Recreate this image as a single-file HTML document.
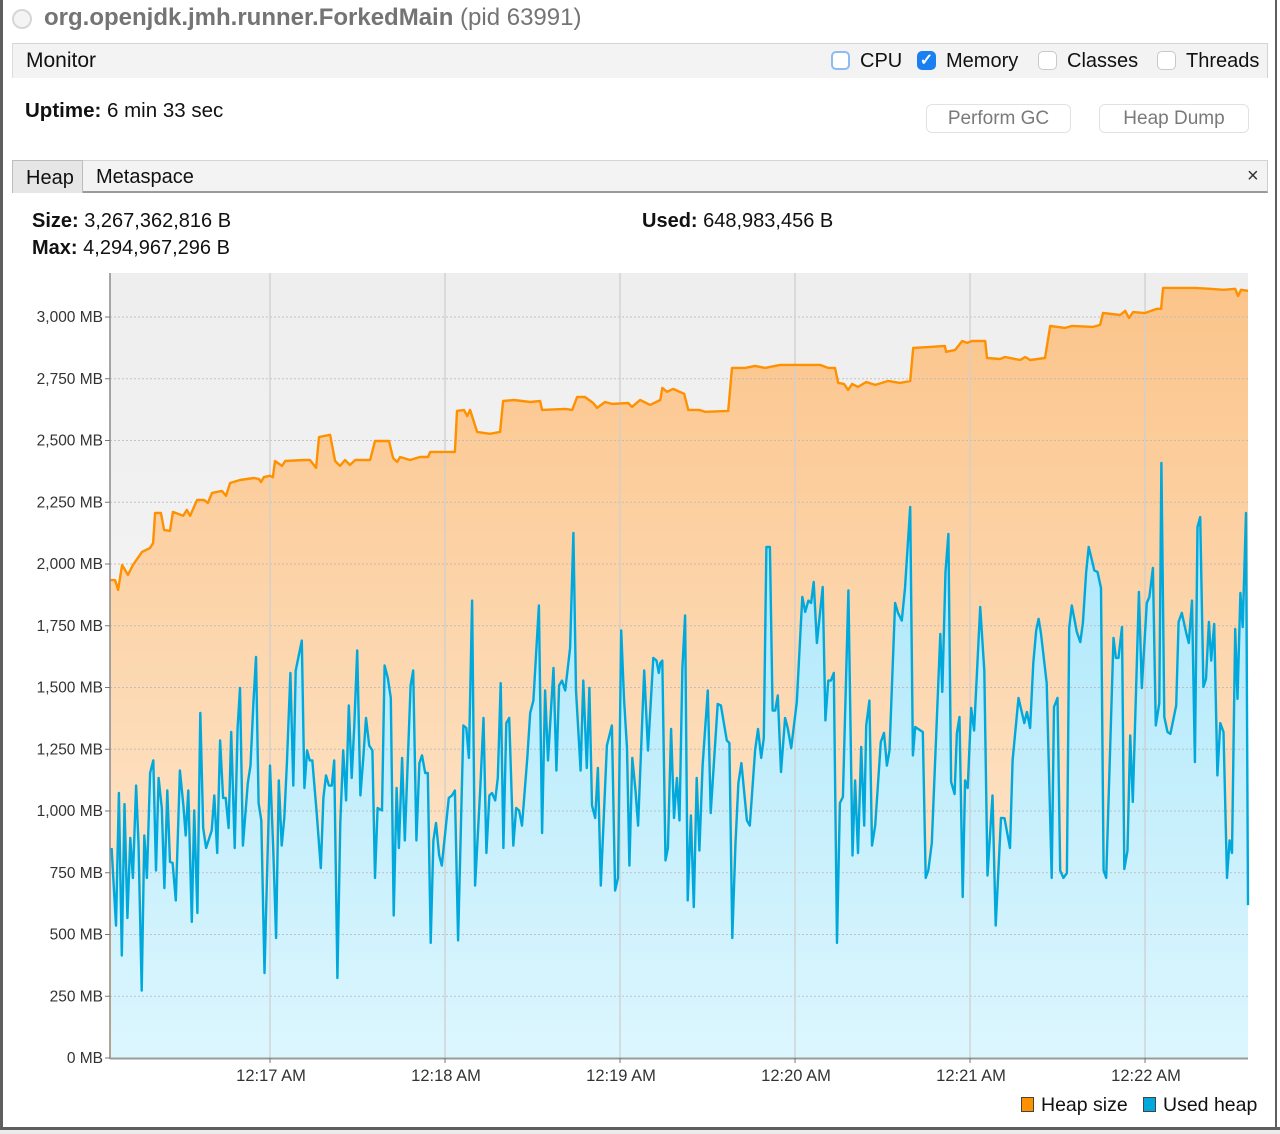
<!DOCTYPE html>
<html><head><meta charset="utf-8"><title>Monitor</title>
<style>
body{margin:0;width:1280px;height:1134px;background:#fff;position:relative;overflow:hidden;font-family:"Liberation Sans",sans-serif;color:#111}
.abs{position:absolute}
.cb{position:absolute;width:19px;height:19px;border:1px solid #c9c9c9;border-radius:5px;background:#fff;box-sizing:border-box}
.lbl{position:absolute;font-size:20px;color:#111;white-space:nowrap}
.btn{position:absolute;height:29px;border:1px solid #e2e2e2;border-radius:6px;background:#fff;color:#7a7a7a;font-size:19px;text-align:center;line-height:28px;box-sizing:border-box}
</style></head><body>
<div class="abs" style="left:0;top:0;width:3px;height:1130px;background:#5e5e5e"></div>
<div class="abs" style="left:1275px;top:0;width:2px;height:1130px;background:#5e5e5e"></div>
<div class="abs" style="left:0;top:1127px;width:1280px;height:3px;background:#5e5e5e"></div>
<div class="abs" style="left:0;top:1130px;width:1280px;height:4px;background:#ececec"></div>

<div class="abs" style="left:12px;top:9px;width:16px;height:16px;border:2px solid #d6d6d6;border-radius:50%;background:#f4f4f4"></div>
<div class="abs" style="left:44px;top:4px;font-size:24px;color:#747474;white-space:nowrap"><b>org.openjdk.jmh.runner.ForkedMain</b> (pid 63991)</div>

<div class="abs" style="left:12px;top:43px;width:1256px;height:35px;background:#f3f3f3;border-top:1px solid #d4d4d4;border-left:1px solid #dcdcdc;border-right:1px solid #d4d4d4;box-sizing:border-box"></div>
<div class="lbl" style="left:26px;top:49px;font-size:21px">Monitor</div>
<div class="cb" style="left:831px;top:51px;border-color:#8cbcf0;border-width:2px"></div>
<div class="lbl" style="left:860px;top:50px">CPU</div>
<div class="cb" style="left:917px;top:51px;background:#1a7ff0;border-color:#1a7ff0;color:#fff;font-size:16px;font-weight:bold;text-align:center;line-height:18px">✓</div>
<div class="lbl" style="left:946px;top:50px">Memory</div>
<div class="cb" style="left:1038px;top:51px"></div>
<div class="lbl" style="left:1067px;top:50px">Classes</div>
<div class="cb" style="left:1157px;top:51px"></div>
<div class="lbl" style="left:1186px;top:50px">Threads</div>

<div class="lbl" style="left:25px;top:99px;font-size:20.5px"><b>Uptime:</b> 6 min 33 sec</div>
<div class="btn" style="left:926px;top:104px;width:145px">Perform GC</div>
<div class="btn" style="left:1099px;top:104px;width:150px">Heap Dump</div>

<div class="abs" style="left:12px;top:160px;width:1256px;height:33px;background:#f3f3f3;border-top:1px solid #d4d4d4;border-bottom:2px solid #9a9a9a;border-right:1px solid #cfcfcf;box-sizing:border-box"></div>
<div class="abs" style="left:12px;top:160px;width:71px;height:33px;background:#e6e6e6;border:1px solid #bdbdbd;border-bottom:none;box-sizing:border-box;font-size:20px;padding:6px 0 0 13px">Heap</div>
<div class="lbl" style="left:96px;top:166px">Metaspace</div>
<div class="lbl" style="left:1247px;top:165px;color:#333">×</div>

<div class="lbl" style="left:32px;top:210px"><b>Size:</b> 3,267,362,816 B</div>
<div class="lbl" style="left:32px;top:237px"><b>Max:</b> 4,294,967,296 B</div>
<div class="lbl" style="left:642px;top:210px"><b>Used:</b> 648,983,456 B</div>

<svg id="chart" class="abs" style="left:0;top:0" width="1280" height="1134" xmlns="http://www.w3.org/2000/svg">
<defs>
<linearGradient id="bgG" x1="0" y1="0" x2="0" y2="1"><stop offset="0" stop-color="#eeeeee"/><stop offset="1" stop-color="#f8f8f8"/></linearGradient>
<linearGradient id="heapG" x1="0" y1="0" x2="0" y2="1"><stop offset="0" stop-color="#fbc48a"/><stop offset="1" stop-color="#feecd8"/></linearGradient>
<linearGradient id="usedG" x1="0" y1="0" x2="0" y2="1"><stop offset="0" stop-color="#a8e6fa"/><stop offset="1" stop-color="#dcf6fe"/></linearGradient>
</defs>
</svg>

<script>
// times in seconds after 12:16:00, values in MB
const heapT=[5.1,6.9,7.9,9.3,11.3,13,16.1,18.9,19.9,20.6,22.6,23.7,25.7,26.7,30.2,31.5,32.6,35,37.4,38.7,40.1,43.5,44.9,46.3,49.7,54.5,56.2,56.9,57.9,60,61,61.7,64.1,65.2,71.7,73.7,75.8,76.8,80.6,82.3,84,85.7,87.4,89.2,94.3,96,100.8,102.2,103.6,104.6,108,111.4,114.2,114.9,123.4,124.1,126.5,127.6,128.6,129.6,131,135.4,138.9,139.9,143.7,149.2,152.6,153.3,161.2,163.6,165.3,168,170.8,172.1,174.9,177.3,182.8,184.1,186.9,190.3,193.8,194.5,196.1,198.2,202,203.4,207.1,209.2,217.1,218.4,222.9,226.3,229.7,234.9,248.6,251.3,253.7,254.8,256.8,258.2,259.6,261.6,264.4,267.5,271.9,276,279.5,280.5,286.3,291.4,291.8,294.9,297.3,299,300.7,305.2,305.8,310.3,312,317.2,318.9,320.6,325.7,327.5,332.6,335,342.2,344.6,345.6,351.5,353.2,354.5,355.9,360,364.1,365.5,366.2,377.1,382.3,386.8,390.9,391.9,392.9,395.3];
const heapV=[1935,1935,1895,1996,1956,1996,2049,2065,2085,2207,2207,2138,2134,2211,2195,2219,2195,2259,2259,2247,2288,2296,2276,2328,2340,2348,2344,2332,2352,2357,2352,2417,2397,2417,2421,2421,2389,2514,2523,2417,2397,2421,2401,2421,2421,2498,2498,2429,2413,2433,2421,2433,2433,2454,2454,2620,2624,2599,2624,2587,2535,2527,2535,2660,2664,2656,2660,2624,2628,2624,2676,2676,2652,2632,2656,2648,2652,2636,2664,2644,2664,2713,2697,2709,2689,2624,2624,2616,2620,2794,2794,2802,2794,2806,2806,2794,2794,2733,2729,2705,2729,2717,2737,2725,2741,2733,2741,2875,2879,2883,2859,2867,2903,2895,2903,2903,2834,2830,2838,2826,2838,2826,2834,2964,2956,2964,2960,2968,3016,3008,3025,2996,3020,3016,3033,3033,3118,3118,3114,3110,3114,3085,3110,3106];
const usedT=[5.7,7.2,8.2,9.2,10.1,11.1,12.1,13,14.1,14.9,16,16.9,17.8,18.9,20,20.9,21.8,22.9,23.8,24.8,25.7,26.6,27.7,29.1,30.3,31.1,32,33.2,34,35.1,36.1,37.1,38.1,40,40.9,41.9,42.9,43.9,44.8,45.8,46.7,47.9,48.9,49.7,50.7,52.4,53.3,54.3,55.2,56.1,57,58.1,59,60,61.1,62.1,63,64,64.9,65.8,67,68,68.8,70.9,71.8,72.7,73.6,74.5,76,77.4,78.3,79.2,80.2,81.2,82,83.1,84.1,85.1,86.1,87,88,88.9,89.9,91,92,92.9,94,95.1,96,96.9,98.4,99.3,100.4,101.4,102.4,103.4,104.2,105.3,106.2,108.2,109.1,110.2,111.2,112.1,113.2,114.1,115.1,116,116.9,118,118.9,121.3,122.4,123.4,124.5,126.3,127.3,128.2,129.3,130.3,132.1,133.2,134.2,135.2,136.1,137.2,138.1,139.1,140,141,142,143.4,144.4,145.4,146.4,148.2,149.2,150.3,151.2,152.2,153.3,154.3,155.3,157.2,158.2,159.1,160.1,161.2,162.9,164,164.9,166.5,167.4,168.6,169.5,170.4,171.5,172.4,173.4,175.5,177.2,178.3,179.3,180.4,181.4,182.4,183.2,184.2,185.3,186.2,188.3,189.6,191.4,192.5,193.3,193.8,194.5,195.6,196.4,197.5,198.5,199.5,200.4,201.4,202.3,203.2,204.3,205.3,206.3,207.2,208.3,210.1,211.1,213.5,214.6,216.6,217.5,218.5,219.6,220.6,221.6,223.5,224.5,226.3,227.3,228.4,229.3,230.2,231.4,232.3,233.2,234.1,235.2,236.6,237.5,238.7,240.6,242.5,243.5,244.6,245.5,246.4,247.5,249.5,250.4,251.4,252.3,253.3,254.4,255.4,256.4,258.3,259.7,260.6,261.6,262.7,263.7,264.4,265.5,266.4,267.5,269.4,270.5,271.5,272.4,274.3,275.3,276.6,277.7,279.5,280.4,281.2,283.8,284.8,285.7,286.9,289.8,290.5,291.6,292.6,293.5,294.7,295.5,296.4,297.5,298.3,299.2,300.4,301.4,303.5,304.9,306,307.7,308.8,310.6,311.8,313.7,314.6,316.6,318.6,319.5,320.6,321.7,322.7,323.5,324.3,326.3,328,328.8,330,330.9,332,333.2,334,334.9,336.6,337.8,338.7,339.8,340.7,341.8,342.6,343.7,344.9,345.8,346.7,349.2,350,350.9,352.1,352.9,354,354.9,355.8,357.9,358.9,360.6,361.5,362.7,363.7,364.9,365.6,366.6,367.7,368.7,370.7,371.5,372.6,374.1,375,376.1,377.1,378,378.9,380,380.9,381.9,382.7,383.7,384.8,385.8,386.9,388.1,389,389.8,390.9,391.7,392.7,393.5,394.6,395.3];
const usedV=[850,536,1073,415,1028,567,891,729,1103,870,273,901,729,1154,1205,759,1134,1012,688,1083,794,790,638,1164,1022,901,1083,551,1002,587,1397,931,850,921,1063,830,1286,1053,1053,931,1320,850,1336,1498,860,1113,1184,1437,1624,1032,962,344,749,1184,850,486,1124,860,972,1194,1559,1103,1569,1690,1093,1245,1205,1205,992,769,1053,1144,1103,1103,1205,324,952,1245,1043,1427,1134,1346,1650,1063,1215,1377,1265,1245,729,1012,1002,1589,1539,1458,577,1093,850,1215,881,1508,1569,881,1194,1225,1154,1154,466,881,952,820,779,1053,1063,1083,476,1346,1336,1215,1852,698,1093,1377,830,1063,1073,1043,1134,1518,850,1356,1377,860,1012,1002,941,1215,1397,1447,1630,1832,911,1488,1205,1579,1164,1508,1528,1488,1660,2126,1488,1164,1528,1174,1498,1022,972,1174,698,1265,1346,678,729,1731,1447,1255,779,1215,1083,941,1569,1245,1620,1609,1559,1599,1609,800,850,1332,972,1134,962,1579,1792,638,982,611,1134,840,1184,1488,992,1433,1427,1286,1275,486,870,1113,1194,962,941,1245,1332,1215,1296,2069,2069,1407,1407,1468,1158,1377,1336,1255,1441,1867,1806,1852,1842,1927,1680,1907,1367,1528,1528,1559,466,1032,1057,1893,820,1124,830,1259,941,1346,1447,860,941,1279,1316,1184,1245,1842,1802,1771,1903,2231,1225,1340,1320,729,759,870,1717,1482,1968,2122,1118,1069,1316,1381,652,1124,1093,1417,1326,1826,1569,739,1063,536,972,971,850,1205,1458,1356,1401,1336,1599,1731,1778,1721,1518,729,1421,1458,759,729,749,1741,1832,1725,1684,1761,1964,2069,2014,1974,1968,1903,759,729,1701,1620,1620,1745,765,840,1306,1037,1887,1498,1842,1867,1984,1346,1437,2409,1381,1320,1312,1427,1765,1802,1721,1680,1852,1198,2150,2190,1502,1535,1765,1609,1757,1144,1356,1320,729,881,830,1737,1454,1883,1745,2207,619];
const yTicks=[0,250,500,750,1000,1250,1500,1750,2000,2250,2500,2750,3000];
const xTickT=[60,120,180,240,300,360];
const xTickLabels=["12:17 AM","12:18 AM","12:19 AM","12:20 AM","12:21 AM","12:22 AM"];

const NS="http://www.w3.org/2000/svg";
const svg=document.getElementById('chart');
const PL=110,PR=1248,PT=273,PB=1058;
const T0=5.14,T1=395.3,VMAX=3000,YV=317;
function xs(t){return PL+(t-T0)*(PR-PL)/(T1-T0);}
function ys(v){return PB-v*(PB-YV)/VMAX;}
function mk(tag,attrs){const e=document.createElementNS(NS,tag);for(const k in attrs)e.setAttribute(k,attrs[k]);svg.appendChild(e);return e;}

let e=mk('rect',{x:PL,y:PT,width:PR-PL,height:PB-PT,fill:'url(#bgG)'});



function areaPath(T,V){let d='M'+xs(T[0]).toFixed(1)+','+PB;for(let i=0;i<T.length;i++)d+=' L'+xs(T[i]).toFixed(1)+','+ys(V[i]).toFixed(1);d+=' L'+xs(T[T.length-1]).toFixed(1)+','+PB+' Z';return d;}
function linePath(T,V){let d='';for(let i=0;i<T.length;i++)d+=(i?' L':'M')+xs(T[i]).toFixed(1)+','+ys(V[i]).toFixed(1);return d;}

e=mk('path',{d:areaPath(heapT,heapV),fill:'url(#heapG)'});


e=mk('path',{d:areaPath(usedT,usedV),fill:'url(#usedG)'});



for(const v of yTicks){
  if(v===0)continue;
  e=mk('line',{x1:PL,x2:PR,y1:ys(v),y2:ys(v),stroke:'#b8b8b8','stroke-width':1,'stroke-dasharray':'2,2',opacity:0.8});
  
  
}
for(const t of xTickT){
  e=mk('line',{x1:xs(t),x2:xs(t),y1:PT,y2:PB,stroke:'#cfcfcf','stroke-width':1.3});
  
  
}

e=mk('path',{d:linePath(heapT,heapV),fill:'none',stroke:'#ff9000','stroke-width':2.4,'stroke-linejoin':'round'});


e=mk('path',{d:linePath(usedT,usedV),fill:'none',stroke:'#00a8dc','stroke-width':2.4,'stroke-linejoin':'round'});



e=mk('line',{x1:PL,x2:PL,y1:PT,y2:PB+1,stroke:'#8a8a8a','stroke-width':1.5});


e=mk('line',{x1:PL,x2:PR,y1:PB+0.5,y2:PB+0.5,stroke:'#9a9a9a','stroke-width':2});



for(const v of yTicks){
  e=mk('line',{x1:PL-5,x2:PL,y1:ys(v),y2:ys(v),stroke:'#777','stroke-width':1});
  
  
  const tx=mk('text',{x:PL-7,y:ys(v)+5,'text-anchor':'end','font-size':15.5,fill:'#333','font-family':'Liberation Sans, sans-serif'});
  tx.textContent=v.toLocaleString('en-US')+' MB';
  
  
}
xTickT.forEach((t,i)=>{
  e=mk('line',{x1:xs(t),x2:xs(t),y1:PB,y2:PB+5,stroke:'#777','stroke-width':1});
  
  
  const tx=mk('text',{x:xs(t)+1,y:1081,'text-anchor':'middle','font-size':16.5,fill:'#333','font-family':'Liberation Sans, sans-serif'});
  tx.textContent=xTickLabels[i];
  
  
});

e=mk('rect',{x:1021.5,y:1097.5,width:12,height:14,fill:'#ff9000',stroke:'#444','stroke-width':1});


e=mk('text',{x:1041,y:1111,'font-size':19.5,fill:'#111','font-family':'Liberation Sans, sans-serif'});
e.textContent='Heap size';


e=mk('rect',{x:1143.5,y:1097.5,width:12,height:14,fill:'#00a8dc',stroke:'#444','stroke-width':1});


e=mk('text',{x:1163,y:1111,'font-size':19.5,fill:'#111','font-family':'Liberation Sans, sans-serif'});
e.textContent='Used heap';


</script>
</body></html>
